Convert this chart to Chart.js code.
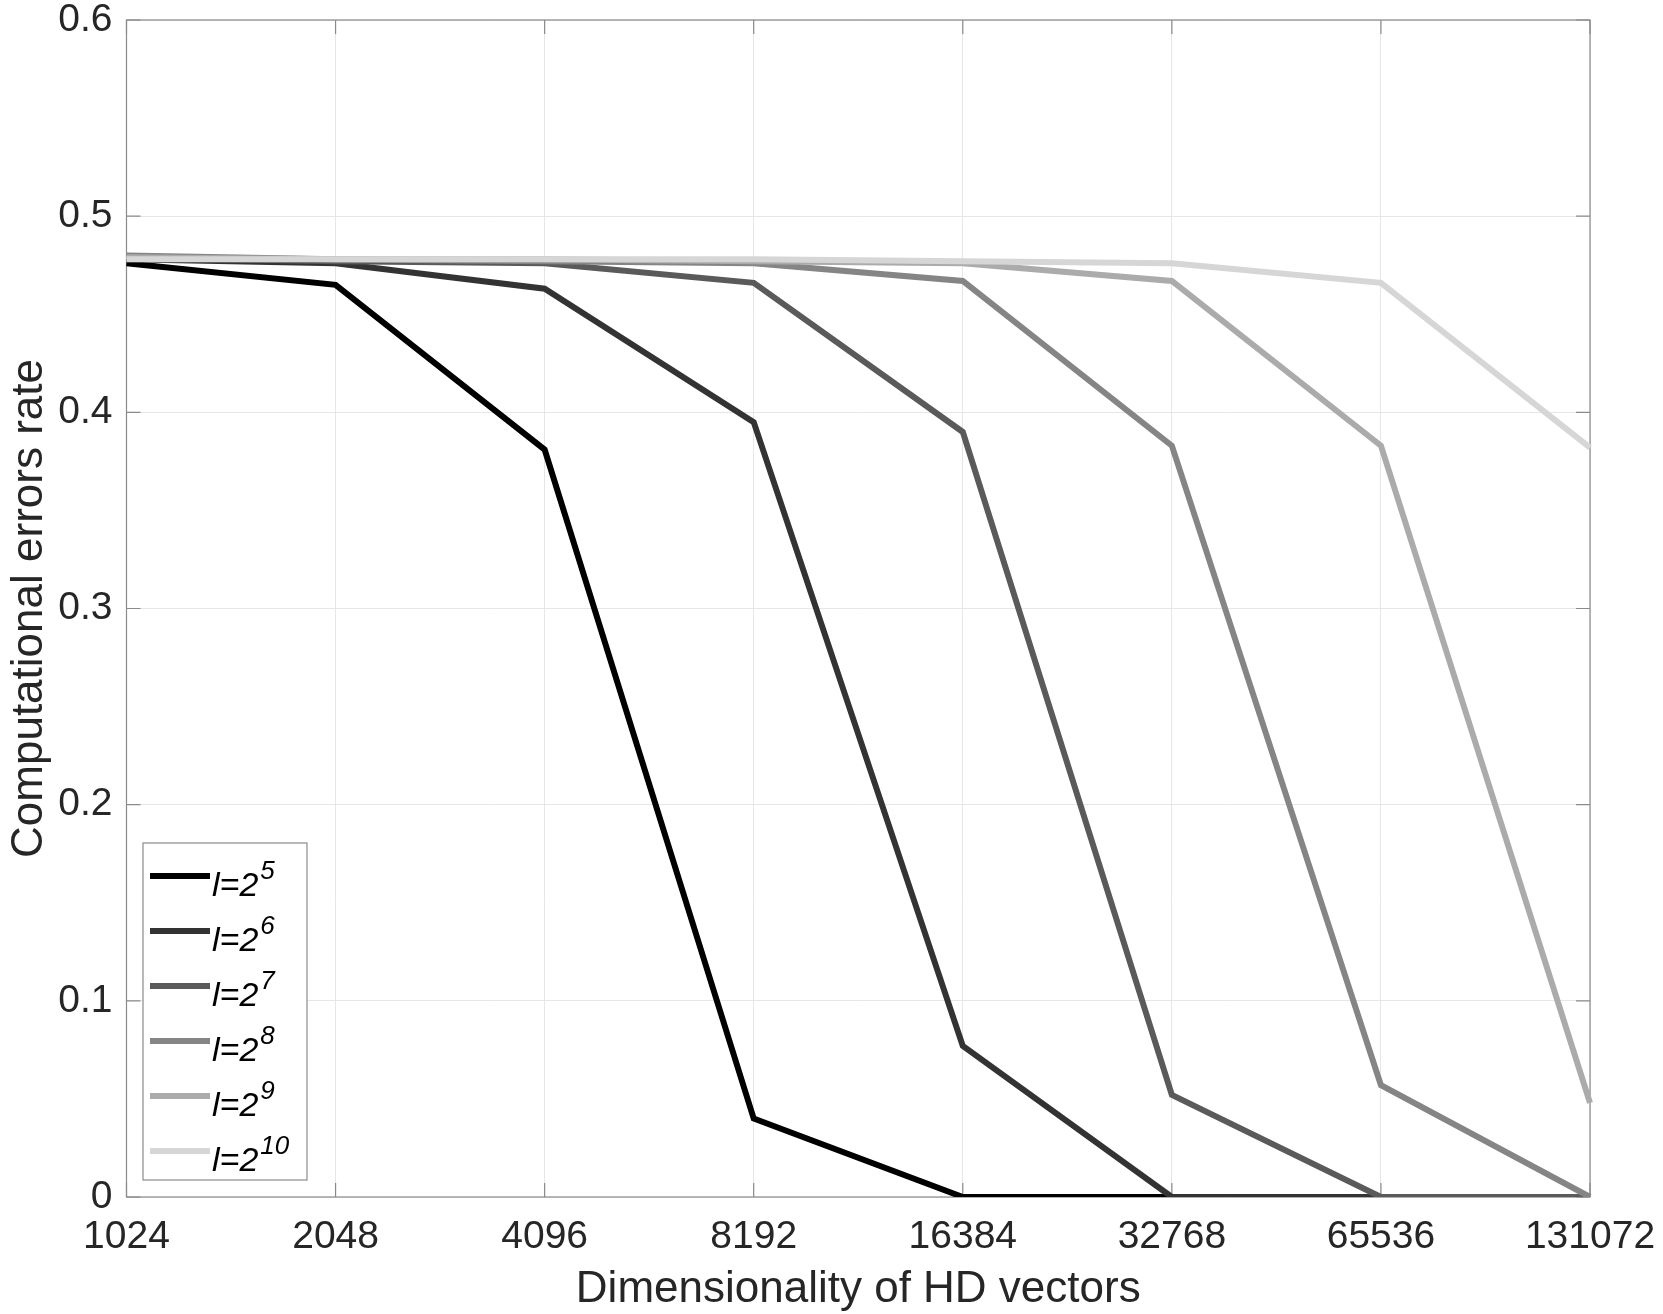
<!DOCTYPE html>
<html>
<head>
<meta charset="utf-8">
<script src="https://cdn.jsdelivr.net/npm/chart.js@4.4.1/dist/chart.umd.min.js"></script>
<style>
  html, body { margin: 0; padding: 0; background: #fff; }
  #wrap { width: 1663px; height: 1314px; }
</style>
</head>
<body>
<div id="wrap"><canvas id="chart-error-rate" width="1663" height="1314"></canvas></div>
<script>
// Dimensionality of the HD vectors (x categories)
const dims = ['1024', '2048', '4096', '8192', '16384', '32768', '65536', '131072'];

// Computational error rate per level count l = 2^k
const errL5 = [0.476, 0.465, 0.381, 0.040, 0, 0, 0, 0];
const errL6 = [0.478, 0.476, 0.463, 0.395, 0.077, 0, 0, 0];
const errL7 = [0.479, 0.477, 0.476, 0.466, 0.390, 0.052, 0, 0];
const errL8 = [0.480, 0.478, 0.477, 0.476, 0.467, 0.383, 0.057, 0];
const errL9 = [0.479, 0.478, 0.478, 0.477, 0.476, 0.467, 0.383, 0.048];
const errL10 = [0.478, 0.478, 0.478, 0.478, 0.477, 0.476, 0.466, 0.382];

const exponents = ['5', '6', '7', '8', '9', '10'];
const yTicks = [0, 0.1, 0.2, 0.3, 0.4, 0.5, 0.6];

const seriesData = [errL5, errL6, errL7, errL8, errL9, errL10];
const colors = ['#000000', '#333333', '#5a5a5a', '#858585', '#ababab', '#d6d6d6'];

const fontFamily = "'Liberation Sans', Arial, Helvetica, sans-serif";
const textColor = '#262626';
const axisColor = '#8a8a8a';
const tickLen = 14;

// box around the plot with inward ticks, like the matlab axes
const frame = {
  id: 'frame',
  beforeDatasetsDraw(chart) {
    const { ctx, chartArea: a, scales: { x, y } } = chart;
    ctx.save();
    ctx.strokeStyle = axisColor;
    ctx.lineWidth = 1.2;
    ctx.strokeRect(a.left, a.top, a.right - a.left, a.bottom - a.top);
    ctx.beginPath();
    x.ticks.forEach((t, i) => {
      const px = x.getPixelForTick(i);
      ctx.moveTo(px, a.bottom); ctx.lineTo(px, a.bottom - tickLen);
      ctx.moveTo(px, a.top); ctx.lineTo(px, a.top + tickLen);
    });
    y.ticks.forEach((t, i) => {
      const py = y.getPixelForTick(i);
      ctx.moveTo(a.left, py); ctx.lineTo(a.left + tickLen, py);
      ctx.moveTo(a.right, py); ctx.lineTo(a.right - tickLen, py);
    });
    ctx.stroke();
    ctx.restore();
  }
};

// legend in the lower left corner, with superscript exponents
const cornerLegend = {
  id: 'cornerLegend',
  afterDatasetsDraw(chart) {
    const { ctx, chartArea: a } = chart;
    const w = 164, h = 337;
    const left = a.left + 16.5;
    const top = a.bottom - 17 - h;
    ctx.save();
    ctx.fillStyle = '#ffffff';
    ctx.fillRect(left, top, w, h);
    ctx.strokeStyle = axisColor;
    ctx.lineWidth = 1.2;
    ctx.strokeRect(left, top, w, h);

    chart.data.datasets.forEach((ds, i) => {
      const cy = top + 33 + i * 55;
      ctx.strokeStyle = ds.borderColor;
      ctx.lineWidth = 6;
      ctx.beginPath();
      ctx.moveTo(left + 7, cy);
      ctx.lineTo(left + 67, cy);
      ctx.stroke();

      ctx.fillStyle = '#000000';
      ctx.textBaseline = 'alphabetic';
      ctx.textAlign = 'left';
      ctx.font = 'italic 34px ' + fontFamily;
      const base = 'l=2';
      ctx.fillText(base, left + 69, cy + 20);
      const bw = ctx.measureText(base).width;
      ctx.font = 'italic 26px ' + fontFamily;
      ctx.fillText(exponents[i], left + 71 + bw, cy + 3);
    });
    ctx.restore();
  }
};

const ctx = document.getElementById('chart-error-rate').getContext('2d');
const chartErrorRate = new Chart(ctx, {
  type: 'line',
  data: {
    labels: dims,
    datasets: seriesData.map((values, i) => ({
      label: 'l=2^' + exponents[i],
      data: values,
      borderColor: colors[i],
      backgroundColor: colors[i],
      borderWidth: 6,
      pointRadius: 0,
      tension: 0,
      fill: false,
      order: seriesData.length - i
    }))
  },
  options: {
    responsive: false,
    animation: false,
    devicePixelRatio: 1,
    layout: {
      autoPadding: false,
      padding: { left: 0, top: 20, right: 73, bottom: 0 }
    },
    plugins: {
      legend: { display: false },
      tooltip: { enabled: false }
    },
    scales: {
      x: {
        type: 'category',
        offset: false,
        afterFit: scale => { scale.height = 117; },
        // invisible tick marks keep the labels away from the axis
        grid: { color: '#e6e6e6', lineWidth: 1, drawTicks: true, tickLength: 17, tickColor: 'rgba(0,0,0,0)' },
        border: { display: false },
        ticks: {
          color: textColor,
          padding: 0,
          maxRotation: 0,
          autoSkip: false,
          font: { family: fontFamily, size: 39 }
        },
        title: {
          display: true,
          text: 'Dimensionality of HD vectors',
          color: textColor,
          font: { family: fontFamily, size: 44 },
          padding: { top: 0, bottom: -2 }
        }
      },
      y: {
        min: 0,
        max: 0.6,
        afterFit: scale => { scale.width = 126.5; },
        afterBuildTicks: scale => { scale.ticks = yTicks.map(v => ({ value: v })); },
        grid: { color: '#e6e6e6', lineWidth: 1, drawTicks: true, tickLength: 14, tickColor: 'rgba(0,0,0,0)' },
        border: { display: false },
        ticks: {
          color: textColor,
          padding: 0,
          font: { family: fontFamily, size: 39, lineHeight: 1 },
          callback: value => (value === 0 ? '0' : value.toFixed(1))
        },
        title: {
          display: true,
          text: 'Computational errors rate',
          color: textColor,
          font: { family: fontFamily, size: 44 },
          padding: { top: 3, bottom: 0 }
        }
      }
    }
  },
  plugins: [frame, cornerLegend]
});
</script>
</body>
</html>
